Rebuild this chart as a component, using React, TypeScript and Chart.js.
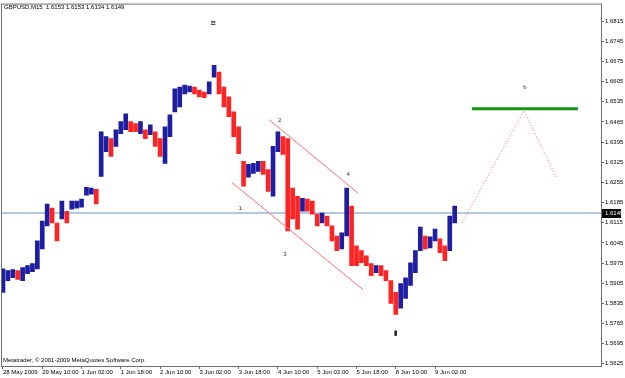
import React, { useEffect, useRef } from "react";
import { Chart, registerables } from "chart.js";

Chart.register(...registerables);

const FONT = '"Liberation Sans Narrow", "Liberation Sans", Arial, sans-serif';

const symbolName = "GBPUSD,M15";
const lastBarOHLC = [1.6153, 1.6153, 1.6134, 1.6149];
const lastPrice = 1.6149;
const copyrightText = "Metatrader, © 2001-2009 MetaQuotes Software Corp.";

// 2-hour bars (index 0 = 28 May 2009)
const barHighs = [
  1.5955, 1.5949, 1.5952, 1.5949, 1.5959, 1.5966, 1.5973, 1.6052, 1.6121, 1.618,
  1.6166, 1.6114, 1.619, 1.6155, 1.619, 1.619, 1.6197, 1.6238, 1.6235, 1.6231,
  1.6431, 1.6414, 1.6407, 1.6438, 1.6466, 1.6493, 1.6466, 1.6459, 1.6466, 1.6438,
  1.6455, 1.6431, 1.6407, 1.6448, 1.649, 1.658, 1.6586, 1.6593, 1.659, 1.6586,
  1.6576, 1.6569, 1.6604, 1.6662, 1.6638, 1.6586, 1.6552, 1.65, 1.6448, 1.6328,
  1.6318, 1.6321, 1.6328, 1.6328, 1.63, 1.638, 1.6431, 1.6414, 1.6407, 1.6235,
  1.6207, 1.62, 1.6197, 1.619, 1.6145, 1.6149, 1.6138, 1.6104, 1.6069, 1.608,
  1.6235, 1.6173, 1.6035, 1.6018, 1.6, 1.5973, 1.5966, 1.5966, 1.5949, 1.5914,
  1.5873, 1.5904, 1.5924, 1.5976, 1.6018, 1.61, 1.6069, 1.6066, 1.6093, 1.6059,
  1.6035, 1.6138, 1.6173,
];
const barLows = [
  1.5873, 1.5914, 1.5924, 1.5918, 1.5914, 1.5938, 1.5945, 1.5955, 1.6024, 1.6104,
  1.6114, 1.6052, 1.6128, 1.6114, 1.6162, 1.6166, 1.6169, 1.6211, 1.6214, 1.618,
  1.6276, 1.6362, 1.6345, 1.638, 1.6424, 1.6438, 1.6431, 1.6431, 1.6424, 1.6407,
  1.6421, 1.638, 1.6345, 1.6321, 1.6414, 1.65, 1.6517, 1.6562, 1.6569, 1.6562,
  1.6552, 1.6549, 1.6562, 1.6621, 1.6562, 1.6517, 1.6483, 1.6414, 1.6355, 1.6242,
  1.6273, 1.6286, 1.6293, 1.6283, 1.6224, 1.6207, 1.6362, 1.6352, 1.6087, 1.6128,
  1.6093, 1.6155, 1.6155, 1.6145, 1.6104, 1.6114, 1.6104, 1.6052, 1.6018, 1.6024,
  1.6069, 1.5966, 1.5966, 1.5976, 1.5966, 1.5931, 1.5942, 1.5931, 1.5914, 1.5835,
  1.5797, 1.5818, 1.5852, 1.5897, 1.5942, 1.6018, 1.6024, 1.6028, 1.6052, 1.6011,
  1.5983, 1.6018, 1.6114,
];

const xTickIndex = [0, 8, 16, 24, 32, 40, 48, 56, 64, 72, 80, 88];
const xTickLabels = [
  "28 May 2009", "29 May 10:00", "1 Jun 02:00", "1 Jun 18:00", "2 Jun 10:00", "3 Jun 02:00",
  "3 Jun 18:00", "4 Jun 10:00", "5 Jun 02:00", "5 Jun 18:00", "8 Jun 10:00", "9 Jun 02:00",
];
const yTickValues = [
  1.5625, 1.5695, 1.5765, 1.5835, 1.5905, 1.5975, 1.6045, 1.6115, 1.6185, 1.6255,
  1.6325, 1.6395, 1.6465, 1.6535, 1.6605, 1.6675, 1.6745, 1.6815,
];

const channelUpper = [{ x: 54.2, y: 1.6473 }, { x: 72.3, y: 1.6218 }];
const channelLower = [{ x: 46.6, y: 1.6255 }, { x: 73.3, y: 1.5883 }];
const projection = [{ x: 93.5, y: 1.6114 }, { x: 106.1, y: 1.6504 }, { x: 112.8, y: 1.6269 }];
const targetLevel = [{ x: 95.5, y: 1.6511 }, { x: 117.1, y: 1.6511 }];

const waveLabels = ["1", "2", "3", "4", "b"];
const waveLabelX = [48.3, 56.4, 57.4, 70.3, 106.3];
const waveLabelY = [1.6166, 1.6469, 1.6007, 1.6283, 1.6586];
const markerSymbols = ["≡", "▮"];
const markerX = [42.8, 80.0];
const markerY = [1.6807, 1.5731];

const X_MIN = -0.2;
const X_MAX = 121.8;
const Y_MIN = 1.56175;
const Y_MAX = 1.68726;

const UP = "#1e1ea0";
const DOWN = "#ff2424";

const overlay = {
  id: "mtOverlay",
  afterDraw(chart: any) {
    const { ctx, chartArea: a, scales } = chart;
    const xs = scales.x;
    const ys = scales.y;
    ctx.save();
    ctx.strokeStyle = "#6e6e6e";
    ctx.lineWidth = 1;
    ctx.strokeRect(a.left - 0.5, a.top - 0.5, a.right - a.left + 1, a.bottom - a.top + 1);

    ctx.fillStyle = "#000";
    ctx.font = `6px ${FONT}`;
    ctx.textAlign = "left";
    ctx.textBaseline = "middle";
    ctx.fillText(`${symbolName}  ${lastBarOHLC.map((v) => v.toFixed(4)).join(" ")}`, 4, 7);
    ctx.fillText(copyrightText, 3, 360);

    ctx.fillStyle = "#333";
    ctx.textAlign = "center";
    waveLabels.forEach((t, k) => {
      ctx.fillText(t, xs.getPixelForValue(waveLabelX[k]), ys.getPixelForValue(waveLabelY[k]));
    });
    ctx.font = `bold 7px "DejaVu Sans", sans-serif`;
    ctx.fillStyle = "#222";
    markerSymbols.forEach((t, k) => {
      ctx.fillText(t, xs.getPixelForValue(markerX[k]), ys.getPixelForValue(markerY[k]));
    });

    const py = Math.round(ys.getPixelForValue(lastPrice));
    ctx.fillStyle = "#000";
    ctx.fillRect(a.right + 1, py - 4, 19, 9);
    ctx.fillStyle = "#fff";
    ctx.font = `6px ${FONT}`;
    ctx.textAlign = "left";
    ctx.fillText(lastPrice.toFixed(4), a.right + 4, py + 0.5);
    ctx.restore();
  },
};

export default function App() {
  const ref = useRef<HTMLCanvasElement | null>(null);

  useEffect(() => {
    document.body.style.margin = "0";
    const canvas = ref.current;
    if (!canvas) return;

    const barData = barHighs.map((h, i) => ({ x: i, y: [barLows[i], h] }));
    const barColors = barHighs.map((h, i) => {
      if (i === 0) return UP;
      const mid = (h + barLows[i]) / 2;
      const prev = (barHighs[i - 1] + barLows[i - 1]) / 2;
      return mid >= prev ? UP : DOWN;
    });

    const chart = new Chart(canvas, {
      type: "bar",
      data: {
        datasets: [
          {
            type: "line",
            data: [
              { x: X_MIN, y: lastPrice },
              { x: X_MAX, y: lastPrice },
            ],
            borderColor: "#b4c8e4",
            borderWidth: 2,
            pointRadius: 0,
            order: 3,
          } as any,
          {
            type: "bar",
            data: barData,
            backgroundColor: barColors,
            borderWidth: 0,
            barThickness: 4,
            grouped: false,
            order: 2,
          } as any,
          {
            type: "line",
            data: channelUpper,
            borderColor: "#ff7070",
            borderWidth: 1,
            pointRadius: 0,
            order: 1,
          } as any,
          {
            type: "line",
            data: channelLower,
            borderColor: "#ff7070",
            borderWidth: 1,
            pointRadius: 0,
            order: 1,
          } as any,
          {
            type: "line",
            data: projection,
            borderColor: "#ff6a6a",
            borderWidth: 1,
            borderDash: [1, 2],
            pointRadius: 0,
            order: 1,
          } as any,
          {
            type: "line",
            data: targetLevel,
            borderColor: "#159415",
            borderWidth: 3,
            pointRadius: 0,
            order: 1,
          } as any,
        ],
      },
      options: {
        responsive: false,
        animation: false,
        devicePixelRatio: 1,
        layout: { padding: { left: 2, top: 2, right: 0, bottom: 0 }, autoPadding: false } as any,
        plugins: { legend: { display: false }, tooltip: { enabled: false } },
        scales: {
          x: {
            type: "linear",
            offset: false,
            min: X_MIN,
            max: X_MAX,
            grid: { display: true, offset: false, drawOnChartArea: false, drawTicks: true, tickLength: 3, color: "#6e6e6e" },
            border: { display: false },
            afterBuildTicks: (scale: any) => {
              scale.ticks = xTickIndex.map((v) => ({ value: v }));
            },
            afterFit: (scale: any) => {
              scale.height = 12;
            },
            ticks: {
              autoSkip: false,
              maxRotation: 0,
              minRotation: 0,
              align: "start",
              padding: 0,
              color: "#000",
              font: { family: FONT, size: 6 },
              callback: (v: any) => {
                const k = xTickIndex.indexOf(Number(v));
                return k >= 0 ? xTickLabels[k] : "";
              },
            },
          } as any,
          y: {
            type: "linear",
            position: "right",
            min: Y_MIN,
            max: Y_MAX,
            grid: { display: true, drawOnChartArea: false, drawTicks: true, tickLength: 3, color: "#6e6e6e" },
            border: { display: false },
            afterBuildTicks: (scale: any) => {
              scale.ticks = yTickValues.map((v) => ({ value: v }));
            },
            afterFit: (scale: any) => {
              scale.width = 24;
            },
            ticks: {
              autoSkip: false,
              padding: 1,
              color: "#000",
              font: { family: FONT, size: 6 },
              callback: (v: any) => Number(v).toFixed(4),
            },
          },
        },
      },
      plugins: [overlay],
    });

    return () => chart.destroy();
  }, []);

  return (
    <canvas
      ref={ref}
      width={625}
      height={378}
      style={{ display: "block", width: 625, height: 378 }}
    />
  );
}
